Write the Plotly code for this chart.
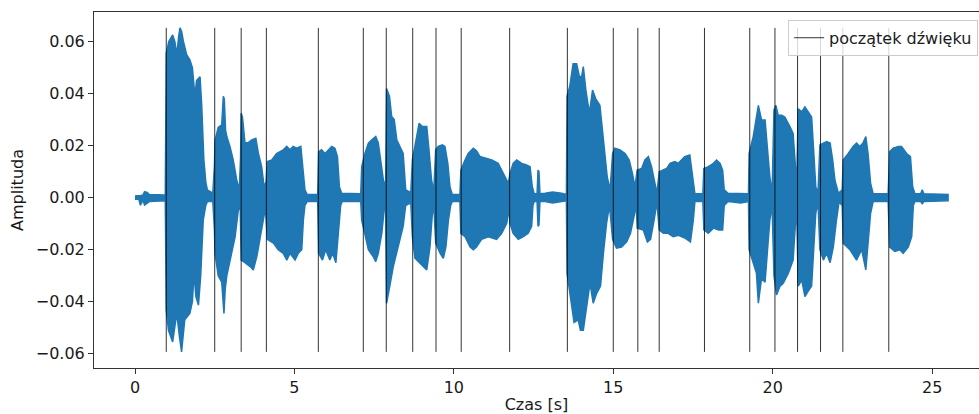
import plotly.graph_objects as go

# Onset times [s]
ONSETS = [0.98, 2.50, 3.33, 4.12, 5.75, 7.16, 7.88, 8.71, 9.44, 10.23, 11.75,
          13.56, 15.00, 15.77, 16.44, 17.86, 19.28, 20.07, 20.78, 21.50, 22.20, 23.64]

# Upper envelope of the waveform (time [s], amplitude)
UPPER_T = [0.00, 0.12, 0.18, 0.25, 0.30, 0.38, 0.45, 0.95, 0.97, 0.98, 1.06, 1.18, 1.25, 1.31, 1.37, 1.41, 1.46, 1.52,
           1.62, 1.72, 1.80, 1.83, 1.88, 1.93, 2.04, 2.09, 2.16, 2.22, 2.27, 2.44, 2.49, 2.51, 2.61,
           2.72, 2.77, 2.80, 2.84, 2.88, 2.98, 3.08, 3.19, 3.27, 3.31, 3.33, 3.37, 3.45, 3.55, 3.66,
           3.79, 3.87, 3.97, 4.05, 4.11, 4.15, 4.29, 4.44, 4.55, 4.65, 4.76, 4.86, 4.96, 5.07, 5.20,
           5.28, 5.33, 5.40, 5.73, 5.76, 5.85, 5.96, 6.06, 6.17, 6.27, 6.35, 6.41, 6.48, 7.08, 7.11,
           7.21, 7.32, 7.42, 7.55, 7.63, 7.71, 7.79, 7.86, 7.89, 7.95, 7.98, 8.05, 8.13, 8.21, 8.31,
           8.41, 8.49, 8.65, 8.70, 8.78, 8.91, 9.01, 9.15, 9.22, 9.30, 9.37, 9.43, 9.51, 9.64, 9.72,
           9.81, 9.88, 9.95, 10.19, 10.22, 10.35, 10.45, 10.61, 10.71, 10.82, 10.98, 11.19, 11.39,
           11.50, 11.60, 11.71, 11.76, 11.86, 11.97, 12.13, 12.28, 12.39, 12.46, 12.52, 12.61, 12.64,
           12.67, 12.70, 12.86, 13.10, 13.38, 13.53, 13.55, 13.64, 13.74, 13.85, 13.93, 14.00, 14.06,
           14.14, 14.25, 14.35, 14.45, 14.58, 14.67, 14.74, 14.81, 14.90, 14.98, 15.05, 15.21, 15.37,
           15.50, 15.60, 15.68, 15.75, 15.89, 15.99, 16.10, 16.20, 16.29, 16.37, 16.44, 16.57, 16.67,
           16.78, 16.93, 17.04, 17.14, 17.24, 17.40, 17.49, 17.56, 17.81, 17.84, 17.98, 18.14, 18.24,
           18.35, 18.43, 18.48, 18.60, 19.00, 19.24, 19.26, 19.39, 19.49, 19.55, 19.65, 19.76, 19.83,
           19.91, 19.98, 20.04, 20.10, 20.17, 20.28, 20.38, 20.54, 20.64, 20.70, 20.75, 20.80, 20.91,
           21.01, 21.11, 21.22, 21.29, 21.35, 21.42, 21.48, 21.59, 21.69, 21.80, 21.88, 21.95, 22.06,
           22.18, 22.21, 22.37, 22.52, 22.63, 22.73, 22.83, 22.92, 22.99, 23.07, 23.15, 23.62, 23.67,
           23.78, 23.94, 24.04, 24.20, 24.32, 24.39, 24.46, 24.64, 24.69, 24.74, 25.50]
UPPER_A = [0.0006, 0.0006, 0.0008, 0.0010, 0.0023, 0.0020, 0.0012, 0.0010, 0.0300, 0.0555, 0.0600, 0.0626, 0.0600, 0.0550, 0.0620, 0.0653, 0.0640, 0.0600,
           0.0550, 0.0530, 0.0500, 0.0465, 0.0390, 0.0450, 0.0465, 0.0360, 0.0145, 0.0060, 0.0030, 0.0017, 0.0120, 0.0220, 0.0270,
           0.0280, 0.0390, 0.0380, 0.0260, 0.0235, 0.0196, 0.0145, 0.0068, 0.0030, 0.0150, 0.0325, 0.0310, 0.0210, 0.0212, 0.0222,
           0.0228, 0.0170, 0.0120, 0.0042, 0.0060, 0.0139, 0.0145, 0.0170, 0.0177, 0.0184, 0.0197, 0.0184, 0.0197, 0.0190, 0.0197,
           0.0080, 0.0030, 0.0012, 0.0012, 0.0177, 0.0184, 0.0170, 0.0184, 0.0197, 0.0190, 0.0158, 0.0042, 0.0017, 0.0015, 0.0119,
           0.0170, 0.0210, 0.0222, 0.0235, 0.0210, 0.0145, 0.0068, 0.0040, 0.0420, 0.0400, 0.0390, 0.0312, 0.0300, 0.0222, 0.0197,
           0.0170, 0.0030, 0.0020, 0.0145, 0.0197, 0.0286, 0.0274, 0.0274, 0.0184, 0.0068, 0.0025, 0.0184, 0.0197, 0.0203, 0.0197,
           0.0132, 0.0040, 0.0012, 0.0012, 0.0106, 0.0145, 0.0170, 0.0190, 0.0180, 0.0158, 0.0152, 0.0145, 0.0132,
           0.0106, 0.0080, 0.0055, 0.0093, 0.0132, 0.0145, 0.0132, 0.0126, 0.0119, 0.0042, 0.0015, 0.0015, 0.0106,
           0.0100, 0.0015, 0.0017, 0.0022, 0.0017, 0.0012, 0.0389, 0.0432, 0.0515, 0.0515, 0.0470, 0.0460, 0.0504,
           0.0414, 0.0325, 0.0414, 0.0380, 0.0355, 0.0247, 0.0170, 0.0080, 0.0030, 0.0170, 0.0190, 0.0184, 0.0170,
           0.0145, 0.0093, 0.0042, 0.0106, 0.0112, 0.0145, 0.0158, 0.0119, 0.0068, 0.0017, 0.0100, 0.0106, 0.0112,
           0.0132, 0.0139, 0.0132, 0.0145, 0.0158, 0.0164, 0.0080, 0.0015, 0.0015, 0.0112, 0.0119, 0.0132, 0.0145,
           0.0132, 0.0106, 0.0030, 0.0017, 0.0017, 0.0015, 0.0170, 0.0235, 0.0310, 0.0355, 0.0299, 0.0299, 0.0197,
           0.0080, 0.0017, 0.0337, 0.0355, 0.0317, 0.0317, 0.0310, 0.0273, 0.0247, 0.0145, 0.0042, 0.0342, 0.0330,
           0.0349, 0.0330, 0.0310, 0.0170, 0.0042, 0.0017, 0.0203, 0.0210, 0.0216, 0.0210, 0.0145, 0.0068, 0.0017,
           0.0030, 0.0145, 0.0170, 0.0197, 0.0210, 0.0197, 0.0210, 0.0235, 0.0170, 0.0055, 0.0015, 0.0015, 0.0177,
           0.0190, 0.0197, 0.0197, 0.0170, 0.0158, 0.0042, 0.0015, 0.0015, 0.0030, 0.0015, 0.0012]

# Lower envelope of the waveform (time [s], amplitude)
LOWER_T = [0.00, 0.12, 0.17, 0.25, 0.30, 0.38, 0.45, 0.95, 0.97, 0.98, 1.05, 1.18, 1.31, 1.40, 1.46, 1.56, 1.72, 1.80,
           1.85, 1.91, 1.99, 2.06, 2.14, 2.22, 2.27, 2.44, 2.49, 2.51, 2.61, 2.72, 2.79, 2.83, 2.88,
           2.98, 3.14, 3.24, 3.30, 3.33, 3.45, 3.61, 3.71, 3.82, 3.92, 4.03, 4.09, 4.15, 4.34, 4.49,
           4.65, 4.76, 4.86, 5.02, 5.12, 5.23, 5.28, 5.33, 5.40, 5.73, 5.76, 5.88, 5.98, 6.11, 6.20,
           6.30, 6.38, 6.45, 6.50, 7.08, 7.11, 7.21, 7.32, 7.47, 7.55, 7.63, 7.74, 7.82, 7.86, 7.89,
           7.99, 8.10, 8.21, 8.31, 8.41, 8.49, 8.65, 8.70, 8.78, 8.91, 9.04, 9.15, 9.25, 9.32, 9.37,
           9.43, 9.57, 9.67, 9.75, 9.83, 9.90, 9.95, 10.19, 10.22, 10.35, 10.51, 10.61, 10.71, 10.87,
           11.08, 11.34, 11.50, 11.66, 11.73, 11.76, 11.86, 12.02, 12.18, 12.33, 12.44, 12.48, 12.52,
           12.61, 12.64, 12.67, 12.70, 12.86, 13.10, 13.38, 13.53, 13.55, 13.66, 13.77, 13.90, 13.97,
           14.06, 14.14, 14.27, 14.37, 14.48, 14.60, 14.69, 14.79, 14.88, 14.98, 15.10, 15.26, 15.42,
           15.54, 15.65, 15.72, 15.75, 15.94, 16.07, 16.17, 16.28, 16.37, 16.44, 16.57, 16.72, 16.88,
           17.05, 17.24, 17.42, 17.51, 17.56, 17.81, 17.84, 17.98, 18.14, 18.30, 18.43, 18.48, 18.60,
           19.00, 19.24, 19.26, 19.37, 19.49, 19.55, 19.65, 19.76, 19.83, 19.91, 19.98, 20.04, 20.12,
           20.23, 20.33, 20.49, 20.64, 20.70, 20.75, 20.80, 20.91, 21.01, 21.11, 21.22, 21.29, 21.35,
           21.42, 21.48, 21.59, 21.69, 21.80, 21.90, 22.00, 22.08, 22.18, 22.21, 22.42, 22.63, 22.79,
           22.92, 22.99, 23.07, 23.15, 23.62, 23.67, 23.83, 23.99, 24.09, 24.25, 24.36, 24.41, 24.46,
           24.64, 24.69, 24.74, 25.50]
LOWER_A = [-0.0006, -0.0006, -0.0029, -0.0010, -0.0028, -0.0022, -0.0015, -0.0012, -0.0250, -0.0432, -0.0510, -0.0555, -0.0445, -0.0540, -0.0593, -0.0470, -0.0445, -0.0400,
           -0.0290, -0.0380, -0.0413, -0.0300, -0.0086, -0.0030, -0.0015, -0.0015, -0.0120, -0.0214, -0.0300, -0.0325, -0.0445, -0.0350, -0.0300,
           -0.0236, -0.0150, -0.0048, -0.0030, -0.0240, -0.0250, -0.0265, -0.0278, -0.0227, -0.0160, -0.0085, -0.0040, -0.0160, -0.0175, -0.0200,
           -0.0214, -0.0240, -0.0214, -0.0240, -0.0214, -0.0200, -0.0086, -0.0030, -0.0015, -0.0015, -0.0214, -0.0240, -0.0200, -0.0240, -0.0214,
           -0.0250, -0.0150, -0.0030, -0.0015, -0.0015, -0.0086, -0.0137, -0.0200, -0.0227, -0.0246, -0.0214, -0.0137, -0.0040, -0.0040, -0.0406,
           -0.0340, -0.0265, -0.0214, -0.0160, -0.0110, -0.0030, -0.0020, -0.0150, -0.0233, -0.0250, -0.0265, -0.0278, -0.0190, -0.0070, -0.0025,
           -0.0175, -0.0214, -0.0233, -0.0190, -0.0086, -0.0030, -0.0015, -0.0015, -0.0137, -0.0150, -0.0190, -0.0200, -0.0190, -0.0160,
           -0.0150, -0.0160, -0.0137, -0.0098, -0.0040, -0.0098, -0.0137, -0.0160, -0.0150, -0.0137, -0.0110, -0.0030, -0.0015,
           -0.0015, -0.0110, -0.0105, -0.0015, -0.0015, -0.0020, -0.0015, -0.0012, -0.0290, -0.0393, -0.0480, -0.0470, -0.0510,
           -0.0510, -0.0432, -0.0329, -0.0406, -0.0368, -0.0340, -0.0214, -0.0098, -0.0030, -0.0160, -0.0194, -0.0190, -0.0170,
           -0.0137, -0.0073, -0.0030, -0.0117, -0.0124, -0.0170, -0.0160, -0.0086, -0.0017, -0.0124, -0.0137, -0.0137, -0.0150,
           -0.0145, -0.0155, -0.0170, -0.0086, -0.0015, -0.0015, -0.0124, -0.0137, -0.0117, -0.0124, -0.0124, -0.0030, -0.0015,
           -0.0020, -0.0015, -0.0200, -0.0240, -0.0290, -0.0406, -0.0310, -0.0325, -0.0214, -0.0086, -0.0030, -0.0300, -0.0374,
           -0.0340, -0.0329, -0.0290, -0.0240, -0.0137, -0.0030, -0.0340, -0.0317, -0.0380, -0.0360, -0.0340, -0.0190, -0.0060,
           -0.0017, -0.0200, -0.0240, -0.0214, -0.0250, -0.0190, -0.0086, -0.0017, -0.0030, -0.0175, -0.0200, -0.0240, -0.0200,
           -0.0278, -0.0190, -0.0060, -0.0015, -0.0015, -0.0190, -0.0207, -0.0200, -0.0214, -0.0190, -0.0150, -0.0030, -0.0015,
           -0.0015, -0.0023, -0.0015, -0.0012]

Y_TICKS = [-0.06, -0.04, -0.02, 0.00, 0.02, 0.04, 0.06]
Y_TICK_TEXT = ["\u22120.06", "\u22120.04", "\u22120.02", "0.00", "0.02", "0.04", "0.06"]
X_TICKS = [0, 5, 10, 15, 20, 25]

BLUE = "#1f77b4"
FONT = "DejaVu Sans"
FS = 16

fig = go.Figure()

# Waveform (drawn as its envelope)
fig.add_trace(go.Scatter(
    x=UPPER_T + LOWER_T[::-1],
    y=UPPER_A + LOWER_A[::-1],
    mode="lines", fill="toself", fillcolor=BLUE,
    line=dict(color=BLUE, width=1.5),
    showlegend=False, hoverinfo="skip",
))

# Onset lines
ymin = min(LOWER_A)
ymax = max(UPPER_A)
vx, vy = [], []
for t in ONSETS:
    vx += [t, t, None]
    vy += [ymin, ymax, None]
fig.add_trace(go.Scatter(
    x=vx, y=vy, mode="lines",
    line=dict(color="rgba(0,0,0,0.8)", width=1),
    name="początek dźwięku",
))

axis_common = dict(
    showline=True, linecolor="#333333", linewidth=1, mirror=True,
    ticks="outside", ticklen=5, tickwidth=1, tickcolor="#333333",
    showgrid=False, zeroline=False, automargin=False,
    tickfont=dict(family=FONT, size=FS, color="#1a1a1a"),
)

fig.update_layout(
    width=979, height=414,
    margin=dict(l=94, r=0, t=12, b=46),
    paper_bgcolor="white", plot_bgcolor="white",
    font=dict(family=FONT, size=FS, color="#1a1a1a"),
    xaxis=dict(
        range=[-1.286, 26.47], tickvals=X_TICKS,
        ticktext=[str(v) for v in X_TICKS],
        title=dict(text="Czas [s]", standoff=4, font=dict(family=FONT, size=FS)),
        **axis_common,
    ),
    yaxis=dict(
        range=[-0.0655, 0.0714], tickvals=Y_TICKS, ticktext=Y_TICK_TEXT,
        title=dict(text="Amplituda", standoff=8, font=dict(family=FONT, size=FS)),
        **axis_common,
    ),
    legend=dict(
        x=0.999, y=0.978, xanchor="right", yanchor="top",
        bgcolor="rgba(255,255,255,0.8)", bordercolor="#cccccc", borderwidth=1,
        font=dict(family=FONT, size=FS, color="#1a1a1a"),
    ),
)

fig.write_html(
    "out.html",
    config={"displayModeBar": False},
    post_script="document.body.style.margin='0';document.body.style.padding='0';"
                "document.documentElement.style.overflow='hidden';",
)
